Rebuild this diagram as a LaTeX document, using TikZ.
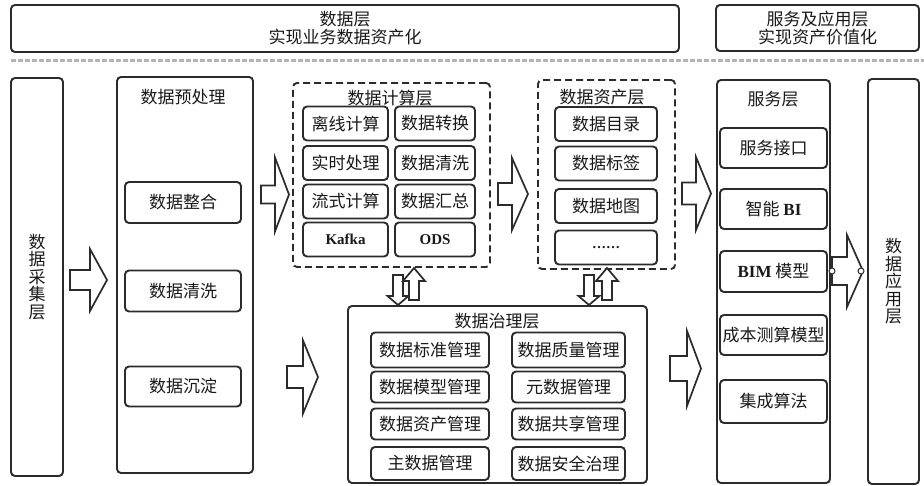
\documentclass[tikz,border=0pt]{standalone}
\usepackage{fontspec}
\setmainfont{Noto Sans CJK SC}
\newfontfamily\latin{Liberation Serif}
\usetikzlibrary{calc}
\definecolor{ln}{HTML}{2B2B2B}
\definecolor{sepc}{HTML}{B4B4B4}
\tikzset{
  box/.style={draw=ln, line width=1.9pt, rounded corners=4pt, fill=white, inner sep=0pt, text=black!90, align=center},
  dbox/.style={box, dash pattern=on 7pt off 4pt},
  ttl/.style={inner sep=0pt, text=black!90},
  blk/.style={draw=ln, line width=1.7pt, fill=white, line join=miter},
  pics/rarrow/.style args={#1,#2,#3,#4}{code={
    \draw[blk] (0,-#4) -- ({#1-#2},-#4) -- ({#1-#2},-#3) -- (#1,0) -- ({#1-#2},#3) -- ({#1-#2},#4) -- (0,#4) -- cycle;}},
  pics/varrow/.style args={#1,#2,#3,#4}{code={
    \draw[blk] (-#4,0) -- (-#4,{#1-#2}) -- (-#3,{#1-#2}) -- (0,#1) -- (#3,{#1-#2}) -- (#4,{#1-#2}) -- (#4,0) -- cycle;}}
}
\begin{document}
\begin{tikzpicture}[x=1pt,y=-1pt,font=\fontsize{17}{18}\selectfont]
\useasboundingbox[fill=white] (0,0) rectangle (924,486);

% top banners
\node[box, minimum width=668pt, minimum height=47pt] (top1) at (345,28.5) {数据层\\实现业务数据资产化};
\node[box, minimum width=203pt, minimum height=46pt] (top2) at (817.5,28) {服务及应用层\\实现资产价值化};
\coordinate (sepL) at (11,61);
\coordinate (sepR) at (924,61);
\draw[sepc, line width=3pt, dash pattern=on 4.5pt off 2.5pt] (sepL) -- (sepR);

% data collection
\node[box, minimum width=52pt, minimum height=398pt, font=\fontsize{17}{17.5}\selectfont] (collect) at (37,277) {数\\据\\采\\集\\层};

% preprocessing
\node[box, minimum width=136pt, minimum height=396pt] (pre) at (185,275) {};
\node[ttl] (pret) at (183,97) {数据预处理};
\node[box, minimum width=116pt, minimum height=41pt] (pre1) at (183,202.5) {数据整合};
\node[box, minimum width=116pt, minimum height=41pt] (pre2) at (183,291) {数据清洗};
\node[box, minimum width=116pt, minimum height=40pt] (pre3) at (183,386.5) {数据沉淀};

% compute layer
\node[dbox, minimum width=197pt, minimum height=184pt] (comp) at (391.5,175) {};
\node[ttl] (compt) at (390,98) {数据计算层};
\node[box, minimum width=85pt, minimum height=34pt] (c11) at (345.5,123.5) {离线计算};
\node[box, minimum width=80pt, minimum height=34pt] (c12) at (435,123.5) {数据转换};
\node[box, minimum width=85pt, minimum height=34pt] (c21) at (345.5,163) {实时处理};
\node[box, minimum width=80pt, minimum height=34pt] (c22) at (435,163) {数据清洗};
\node[box, minimum width=85pt, minimum height=34pt] (c31) at (345.5,201.5) {流式计算};
\node[box, minimum width=80pt, minimum height=34pt] (c32) at (435,201.5) {数据汇总};
\node[box, minimum width=85pt, minimum height=34pt, font=\latin\bfseries\fontsize{15}{17}\selectfont] (c41) at (345.5,239.5) {Kafka};
\node[box, minimum width=80pt, minimum height=34pt, font=\latin\bfseries\fontsize{15}{17}\selectfont] (c42) at (435,239.5) {ODS};

% asset layer
\node[dbox, minimum width=137pt, minimum height=189pt] (asset) at (606.5,174.5) {};
\node[ttl] (assett) at (602,97) {数据资产层};
\node[box, minimum width=102pt, minimum height=34pt] (as1) at (606,124) {数据目录};
\node[box, minimum width=102pt, minimum height=34pt] (as2) at (606,163.5) {数据标签};
\node[box, minimum width=102pt, minimum height=34pt] (as3) at (606,206) {数据地图};
\node[box, minimum width=102pt, minimum height=34pt, font=\latin\bfseries\fontsize{14}{16}\selectfont] (as4) at (606,247.5) {……};

% service layer
\node[box, minimum width=113pt, minimum height=403pt] (serv) at (773.5,281.5) {};
\node[ttl] (servt) at (773,99) {服务层};
\node[box, minimum width=107pt, minimum height=40pt] (s1) at (773.5,148) {服务接口};
\node[box, minimum width=107pt, minimum height=40pt] (s2) at (773.5,209) {智能 {\latin\bfseries BI}};
\node[box, minimum width=107pt, minimum height=41pt] (s3) at (773.5,271.5) {{\latin\bfseries BIM} 模型};
\node[box, minimum width=107pt, minimum height=40pt] (s4) at (773.5,335) {成本测算模型};
\node[box, minimum width=107pt, minimum height=43pt] (s5) at (773.5,401.5) {集成算法};

% application layer
\node[box, minimum width=51pt, minimum height=405pt, font=\fontsize{17}{17.5}\selectfont] (app) at (893.5,281.5) {数\\据\\应\\用\\层};

% governance layer
\node[box, minimum width=299pt, minimum height=177pt] (gov) at (497.5,394.5) {};
\node[ttl] (govt) at (497,321) {数据治理层};
\node[box, minimum width=118pt, minimum height=35pt] (g11) at (430,350) {数据标准管理};
\node[box, minimum width=113pt, minimum height=35pt] (g12) at (568.5,350) {数据质量管理};
\node[box, minimum width=118pt, minimum height=31pt] (g21) at (430,387) {数据模型管理};
\node[box, minimum width=113pt, minimum height=31pt] (g22) at (568.5,387) {元数据管理};
\node[box, minimum width=118pt, minimum height=31pt] (g31) at (430,424) {数据资产管理};
\node[box, minimum width=113pt, minimum height=31pt] (g32) at (568.5,424) {数据共享管理};
\node[box, minimum width=118pt, minimum height=33pt] (g41) at (430,463.5) {主数据管理};
\node[box, minimum width=113pt, minimum height=33pt] (g42) at (568.5,463.5) {数据安全治理};

% block arrows
\pic at (70,280) {rarrow={37,17,31,10}};
\pic at (261,194.5) {rarrow={28,14,37,9}};
\pic at (498,194) {rarrow={30,16,36,11}};
\pic at (682,193.5) {rarrow={29,15,36.5,11}};
\pic at (287,377) {rarrow={31,15,36.5,11}};
\pic at (670,368.5) {rarrow={31,14,37.5,12.5}};
\pic at (832,271) {rarrow={31,16,36,14}};
\draw[ln, line width=1pt, fill=white] (832,271) circle (3pt);
\draw[ln, line width=1pt, fill=white] (861,271) circle (3pt);

% vertical double arrows
\pic at (398,275) {varrow={30,9,10.5,5}};
\pic at (414,300) {varrow={-32,-13,11,5}};
\pic at (589,275) {varrow={30,9,10.5,5}};
\pic at (607,300) {varrow={-32,-13,11,5}};
\end{tikzpicture}
\end{document}
